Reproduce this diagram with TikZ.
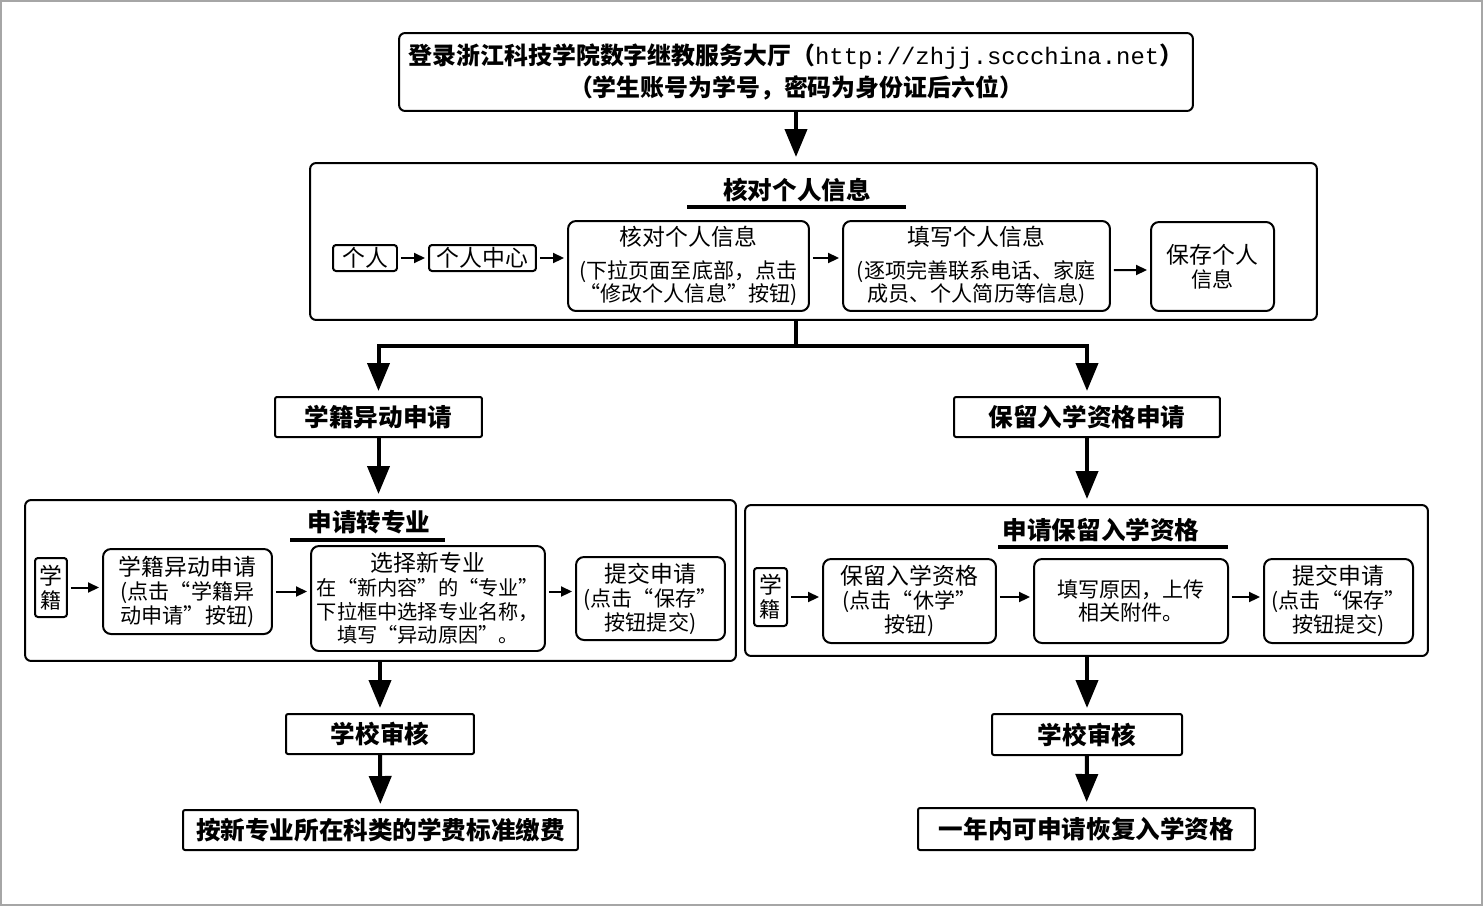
\documentclass[tikz,border=0pt]{standalone}
\usepackage{fontspec}
\setmainfont{Noto Sans CJK SC}
\newfontfamily\urlfont{Liberation Mono}
\usetikzlibrary{arrows.meta}

\begin{document}
\begin{tikzpicture}[x=0.02cm,y=-0.02cm,>={Triangle[width=0.44cm,length=0.56cm]}]
        \tikzstyle{frame}=[draw,line width=0.04cm,rounded corners=0.12cm,inner sep=0pt]
        \tikzstyle{head}=[draw,line width=0.04cm,rounded corners=0.04cm,inner sep=0pt,font=\fontsize{14pt}{16pt}\selectfont\bfseries]
        \tikzstyle{title}=[inner sep=0pt,font=\fontsize{14pt}{16pt}\selectfont\bfseries]
        \tikzstyle{stepbox}=[draw,line width=0.04cm,rounded corners=0.16cm,inner sep=0pt,align=center,font=\fontsize{12pt}{13.6pt}\selectfont]
        \tikzstyle{big}=[line width=0.08cm]
        \tikzstyle{bigarrow}=[big,->,shorten >=0.1cm]
        \tikzstyle{small}=[line width=0.04cm,-{Triangle[width=0.2cm,length=0.22cm]},shorten <=0.06cm,shorten >=0.06cm]
        \newcommand{\lead}[1]{{\fontsize{13pt}{15pt}\selectfont #1}}

        \useasboundingbox (0,0) rectangle (1483,906);
        \draw[gray!70,line width=0.04cm] (1,1) rectangle (1482,905); %border

        % top
        \node [frame,minimum width=15.88cm,minimum height=1.56cm,align=center,
               font=\fontsize{13.6pt}{18pt}\selectfont\bfseries] (login) at (796,72)
              {登录浙江科技学院数字继教服务大厅（{\urlfont\mdseries http://zhjj.sccchina.net}）\\（学生账号为学号，密码为身份证后六位）};

        % check personal info
        \node [frame,minimum width=20.14cm,minimum height=3.14cm] (check) at (813.5,241.5) {};
        \node [title] (checkt) at (797,190) {核对个人信息};
        \draw [big] (687,207) -- (906,207);
        \node [stepbox,minimum width=1.28cm,minimum height=0.52cm,rounded corners=0.06cm] (geren) at (365,258) {\lead{个人}};
        \node [stepbox,minimum width=2.14cm,minimum height=0.52cm,rounded corners=0.06cm] (zhongxin) at (482.5,258) {\lead{个人中心}};
        \node [stepbox,minimum width=4.82cm,minimum height=1.8cm] (hedui) at (688.5,266)
              {\lead{核对个人信息}\\[5pt](下拉页面至底部，点击\\“修改个人信息”按钮)};
        \node [stepbox,minimum width=5.34cm,minimum height=1.8cm] (tianxie) at (976.5,266)
              {\lead{填写个人信息}\\[5pt](逐项完善联系电话、家庭\\成员、个人简历等信息)};
        \node [stepbox,minimum width=2.46cm,minimum height=1.78cm] (baocun) at (1212.5,266.5)
              {\fontsize{13pt}{16pt}\selectfont 保存个人\\信息};
        \draw [small] (geren) -- (zhongxin);
        \draw [small] (zhongxin) -- (hedui.west|-zhongxin);
        \draw [small] (hedui.east|-geren) -- (tianxie.west|-geren);
        \draw [small] ([yshift=-0.08cm]tianxie.east) -- ([yshift=-0.07cm]baocun.west);

        \draw [bigarrow] (login) -- (check.north-|login);
        \draw [big] (check.south-|login) -- ++(0,25) coordinate (split);

        % left: transfer
        \node [head,minimum width=4.14cm,minimum height=0.8cm] (yidong) at (378.5,417) {学籍异动申请};
        \node [frame,minimum width=14.22cm,minimum height=3.22cm] (transfer) at (380.5,580.5) {};
        \node [title] (transfert) at (369,522) {申请转专业};
        \draw [big] (290,540) -- (445,540);
        \node [stepbox,minimum width=0.64cm,minimum height=1.18cm,rounded corners=0.06cm] (xueji) at (51,587.5)
              {\fontsize{13pt}{15pt}\selectfont 学\\籍};
        \node [stepbox,minimum width=3.38cm,minimum height=1.7cm] (sq) at (187.5,591.5)
              {\lead{学籍异动申请}\\(点击“学籍异\\动申请”按钮)};
        \node [stepbox,minimum width=4.68cm,minimum height=2.1cm,font=\fontsize{11.5pt}{13.4pt}\selectfont] (xuanze) at (428,598.5)
              {\lead{选择新专业}\\在“新内容”的“专业”\\下拉框中选择专业名称，\\填写“异动原因”。};
        \node [stepbox,minimum width=2.98cm,minimum height=1.66cm] (tijiao) at (650.5,598.5)
              {\lead{提交申请}\\(点击“保存”\\按钮提交)};
        \draw [small] (xueji) -- (sq.west|-xueji);
        \draw [small] (sq.east) -- (xuanze.west|-sq.east);
        \draw [small] (xuanze.east|-sq.east) -- (tijiao.west|-sq.east);
        \node [head,minimum width=3.76cm,minimum height=0.8cm] (shenhe) at (380,734) {学校审核};
        \node [head,minimum width=7.9cm,minimum height=0.8cm] (jiaofei) at (380.5,830) {按新专业所在科类的学费标准缴费};

        % right: keep admission
        \node [head,minimum width=5.32cm,minimum height=0.8cm] (baoliu) at (1087,417) {保留入学资格申请};
        \node [frame,minimum width=13.66cm,minimum height=3.02cm] (keep) at (1086.5,580.5) {};
        \node [title] (keept) at (1101,530) {申请保留入学资格};
        \draw [big] (998,547) -- (1228,547);
        \node [stepbox,minimum width=0.66cm,minimum height=1.16cm,rounded corners=0.06cm] (xueji2) at (770.5,597)
              {\fontsize{13pt}{15pt}\selectfont 学\\籍};
        \node [stepbox,minimum width=3.46cm,minimum height=1.68cm] (bl) at (909.5,601)
              {\lead{保留入学资格}\\(点击“休学”\\按钮)};
        \node [stepbox,minimum width=3.88cm,minimum height=1.68cm] (yuanyin) at (1131,601)
              {填写原因，上传\\相关附件。};
        \node [stepbox,minimum width=2.98cm,minimum height=1.68cm] (tijiao2) at (1338.5,601)
              {\lead{提交申请}\\(点击“保存”\\按钮提交)};
        \draw [small] (xueji2) -- (bl.west|-xueji2);
        \draw [small] (bl.east|-xueji2) -- (yuanyin.west|-xueji2);
        \draw [small] (yuanyin.east|-xueji2) -- (tijiao2.west|-xueji2);
        \node [head,minimum width=3.8cm,minimum height=0.82cm] (shenhe2) at (1087,734.5) {学校审核};
        \node [head,minimum width=6.74cm,minimum height=0.84cm] (huifu) at (1086.5,829) {一年内可申请恢复入学资格};

        % main flow
        \draw [bigarrow] (split) -| (yidong.north);
        \draw [bigarrow] (split) -| (baoliu.north);
        \draw [bigarrow] (yidong) -- (transfer.north-|yidong);
        \draw [bigarrow] (transfer.south-|shenhe) -- (shenhe);
        \draw [bigarrow] (shenhe) -- (jiaofei);
        \draw [bigarrow] (baoliu) -- (keep.north-|baoliu);
        \draw [bigarrow] (keep.south-|shenhe2) -- (shenhe2);
        \draw [bigarrow] (shenhe2) -- (huifu);
\end{tikzpicture}
\end{document}
